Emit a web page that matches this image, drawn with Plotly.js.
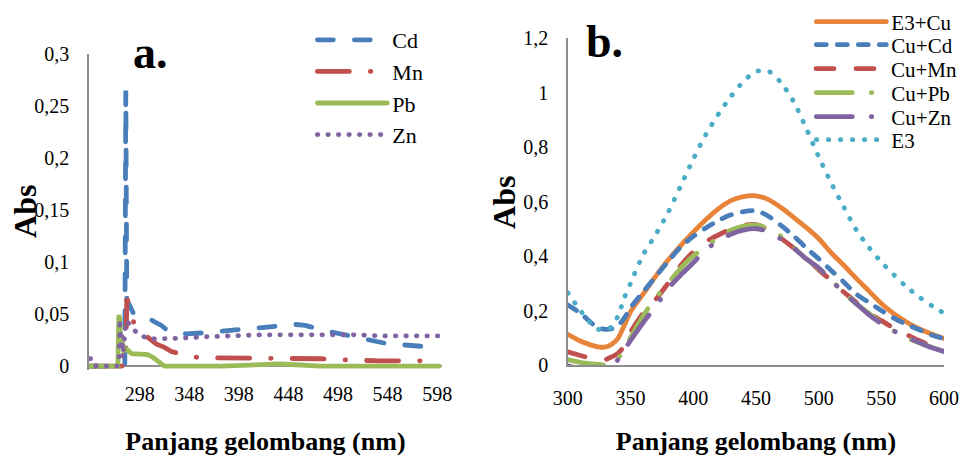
<!DOCTYPE html>
<html>
<head>
<meta charset="utf-8">
<script src="https://cdn.plot.ly/plotly-3.0.1.min.js"></script>
<style>
  html, body { margin: 0; padding: 0; background: #ffffff; }
  #chart { width: 963px; height: 456px; }
  /* rounded dash ends, like the office-style line charts */
  #chart path.js-line { stroke-linecap: round; }
</style>
</head>
<body>
<div id="chart"></div>
<script>
// ---- panel a: single-metal spectra (absorbance vs wavelength, nm) ----
const wlCd = [248, 283, 284, 285, 288, 292, 300, 307, 314, 320, 326, 335, 345, 355, 365, 375, 385, 395, 405, 415, 425, 435, 445, 455, 465, 475, 485, 495, 505, 515, 525, 535, 545, 555, 565, 575, 585, 595, 600];
const absCd = [0, 0, 0.265, 0.063, 0.058, 0.05, 0.048, 0.046, 0.042, 0.039, 0.034, 0.032, 0.031, 0.031, 0.032, 0.033, 0.034, 0.035, 0.036, 0.037, 0.038, 0.039, 0.040, 0.040, 0.039, 0.036, 0.034, 0.032, 0.030, 0.027, 0.025, 0.024, 0.022, 0.021, 0.020, 0.019, 0.018, 0.018, 0.018];

const wlMn = [248, 284, 285, 288, 292, 300, 307, 315, 323, 330, 340, 350, 360, 380, 400, 420, 440, 460, 480, 500, 520, 540, 560, 580, 600];
const absMn = [0, 0, 0.065, 0.058, 0.042, 0.034, 0.027, 0.021, 0.018, 0.014, 0.011, 0.009, 0.008, 0.008, 0.008, 0.008, 0.008, 0.007, 0.007, 0.006, 0.005, 0.005, 0.005, 0.005, 0.005];

const wlPb = [248, 276, 277, 278, 279, 280, 282, 285, 290, 295, 300, 306, 312, 318, 323, 380, 400, 420, 440, 460, 480, 600];
const absPb = [0, 0, 0.049, 0.045, 0.02, 0.025, 0.015, 0.016, 0.012, 0.012, 0.011, 0.011, 0.008, 0.004, 0, 0, 0.001, 0.002, 0.002, 0.001, 0, 0];

const wlZn = [248, 251, 254, 276, 277, 278, 279, 280, 281, 282, 283, 284, 286, 289, 293, 298, 305, 315, 330, 345, 360, 380, 400, 420, 440, 460, 480, 500, 520, 540, 560, 580, 600];
const absZn = [0.007, 0.007, 0, 0, 0.004, 0.045, 0.015, 0.03, 0.008, 0.022, 0.038, 0.043, 0.042, 0.038, 0.034, 0.03, 0.027, 0.026, 0.026, 0.027, 0.028, 0.029, 0.029, 0.03, 0.03, 0.03, 0.031, 0.031, 0.03, 0.029, 0.029, 0.029, 0.029];

const ticksA = [298, 348, 398, 448, 498, 548, 598];

// ---- panel b: E3 ligand with Cu and competing metals ----
const wlB = [300, 310, 320, 325, 330, 335, 340, 345, 350, 360, 370, 380, 390, 400, 410, 420, 430, 440, 450, 460, 470, 480, 490, 500, 510, 520, 530, 540, 550, 560, 570, 580, 590, 600];
const absE3Cu = [0.113, 0.088, 0.071, 0.066, 0.066, 0.076, 0.098, 0.145, 0.195, 0.26, 0.325, 0.385, 0.438, 0.487, 0.533, 0.573, 0.603, 0.618, 0.621, 0.607, 0.578, 0.542, 0.505, 0.464, 0.412, 0.366, 0.318, 0.272, 0.226, 0.188, 0.158, 0.133, 0.114, 0.097];
const absCuCd = [0.22, 0.19, 0.15, 0.135, 0.131, 0.133, 0.145, 0.172, 0.21, 0.268, 0.324, 0.38, 0.433, 0.472, 0.503, 0.53, 0.551, 0.563, 0.566, 0.546, 0.512, 0.474, 0.43, 0.39, 0.347, 0.305, 0.26, 0.23, 0.2, 0.172, 0.149, 0.13, 0.11, 0.097];
const absCuMn = [0.048, 0.035, 0.022, 0.018, 0.02, 0.03, 0.043, 0.07, 0.12, 0.19, 0.24, 0.3, 0.365, 0.415, 0.452, 0.477, 0.498, 0.513, 0.515, 0.497, 0.465, 0.43, 0.392, 0.35, 0.31, 0.268, 0.23, 0.19, 0.163, 0.135, 0.112, 0.09, 0.07, 0.055];
const absCuPb = [0.02, 0.01, 0.004, 0.002, 0, 0.006, 0.025, 0.055, 0.1, 0.18, 0.245, 0.3, 0.355, 0.4, 0.432, 0.468, 0.495, 0.51, 0.513, 0.5, 0.472, 0.432, 0.39, 0.355, 0.313, 0.265, 0.225, 0.19, 0.153, 0.125, 0.1, 0.082, 0.065, 0.049];
const absCuZn = [-0.003, -0.015, -0.025, -0.03, -0.02, -0.01, 0.02, 0.055, 0.09, 0.155, 0.215, 0.28, 0.33, 0.375, 0.423, 0.455, 0.48, 0.495, 0.5, 0.49, 0.462, 0.43, 0.39, 0.357, 0.31, 0.267, 0.225, 0.185, 0.152, 0.125, 0.102, 0.083, 0.064, 0.05];
const absE3 = [0.265, 0.2, 0.145, 0.13, 0.13, 0.14, 0.18, 0.245, 0.3, 0.404, 0.478, 0.56, 0.657, 0.755, 0.845, 0.92, 0.985, 1.04, 1.077, 1.078, 1.036, 0.967, 0.87, 0.765, 0.668, 0.58, 0.496, 0.432, 0.378, 0.331, 0.287, 0.25, 0.218, 0.19];

// ---- styling ----
const FONT = 'Liberation Serif';
const C = {
  blue: '#4a7ebb', red: '#c0504d', green: '#9bbb59',
  purple: '#8064a2', orange: '#e8843a', teal: '#4bacc6'
};
// dash patterns (round caps add the line width to every dash)
const DASH = {
  longdash: '16px,21px',
  dashdot: '32px,21px,0.5px,21px',
  dot: '0.5px,10px',
  shortdash: '10px,11px',
  longdashB: '18px,22px',
  dashdotB: '36px,19px,0.5px,19px',
  dotB: '0.5px,11.5px'
};

function seriesA(name, x, y, color, dash) {
  return {
    type: 'scatter', mode: 'lines', name: name, x: x, y: y,
    xaxis: 'x', yaxis: 'y', legend: 'legend',
    line: { color: color, width: 4.8, dash: dash, shape: 'linear' }
  };
}
function seriesB(name, y, color, dash, legendId) {
  return {
    type: 'scatter', mode: 'lines', name: name, x: wlB, y: y,
    xaxis: 'x2', yaxis: 'y2', legend: legendId,
    line: { color: color, width: 4.8, dash: dash, shape: 'spline', smoothing: 0.8 }
  };
}

const traces = [
  seriesA('Cd', wlCd, absCd, C.blue, DASH.longdash),
  seriesA('Mn', wlMn, absMn, C.red, DASH.dashdot),
  seriesA('Pb', wlPb, absPb, C.green, 'solid'),
  seriesA('Zn', wlZn, absZn, C.purple, DASH.dot),
  seriesB('E3+Cu', absE3Cu, C.orange, 'solid', 'legend2'),
  seriesB('Cu+Cd', absCuCd, C.blue, DASH.shortdash, 'legend3'),
  seriesB('Cu+Mn', absCuMn, C.red, DASH.longdashB, 'legend4'),
  seriesB('Cu+Pb', absCuPb, C.green, DASH.dashdotB, 'legend5'),
  seriesB('Cu+Zn', absCuZn, C.purple, DASH.dashdotB, 'legend6'),
  seriesB('E3', absE3, C.teal, DASH.dotB, 'legend7')
];

const W = 963, H = 456;
const px = v => v / W;          // horizontal pixel -> paper
const py = v => 1 - v / H;      // vertical pixel -> paper

const axisLine = '#8c8c8c';
const tickFont = { family: FONT, size: 20, color: '#000' };
const titleFont = { family: FONT, size: 26, color: '#000', weight: 'bold' };
const absFont = { family: FONT, size: 32, color: '#000', weight: 'bold' };
const panelFont = { family: FONT, size: 46, color: '#000', weight: 'bold' };

function sideLegend(cy, size) {
  return {
    x: px(813), y: py(cy), xanchor: 'left', yanchor: 'middle',
    bgcolor: 'rgba(0,0,0,0)', borderwidth: 0,
    font: { family: FONT, size: size, color: '#000' },
    itemwidth: 70
  };
}

function label(text, x, y, font, angle) {
  return {
    text: text, xref: 'paper', yref: 'paper', x: px(x), y: py(y),
    xanchor: angle ? 'center' : 'left', yanchor: 'middle',
    textangle: angle || 0, showarrow: false, font: font
  };
}

const layout = {
  width: W, height: H, autosize: false,
  margin: { l: 0, r: 0, t: 0, b: 0, pad: 0 },
  paper_bgcolor: '#fff', plot_bgcolor: '#fff',
  separators: ', ',
  font: { family: FONT, color: '#000' },
  showlegend: true,
  xaxis: {
    domain: [px(89), px(443)], range: [246.7, 603], anchor: 'y',
    tickmode: 'array', tickvals: ticksA, ticks: '',
    showline: false, zeroline: false, showgrid: false,
    tickfont: tickFont, ticklabelstandoff: 10,
    title: { text: 'Panjang gelombang (nm)', font: titleFont, standoff: 30 }
  },
  yaxis: {
    domain: [py(370.2), py(54)], range: [-0.004, 0.3], anchor: 'x',
    tick0: 0, dtick: 0.05, ticks: '',
    showline: true, linecolor: axisLine, linewidth: 1.5,
    zeroline: true, zerolinecolor: axisLine, zerolinewidth: 1.5,
    showgrid: false, tickfont: tickFont, ticklabelstandoff: 14
  },
  xaxis2: {
    domain: [px(569), px(946)], range: [300, 600], anchor: 'y2',
    tick0: 300, dtick: 50, ticks: '',
    showline: true, linecolor: axisLine, linewidth: 1.5,
    zeroline: false, showgrid: false,
    tickfont: tickFont, ticklabelstandoff: 14,
    title: { text: 'Panjang gelombang (nm)', font: titleFont, standoff: 30 }
  },
  yaxis2: {
    domain: [py(365), py(38)], range: [0, 1.2], anchor: 'x2',
    tick0: 0, dtick: 0.2, ticks: '',
    showline: true, linecolor: axisLine, linewidth: 1.5,
    zeroline: false, showgrid: false, tickfont: tickFont, ticklabelstandoff: 14
  },
  legend: {
    x: px(313), y: py(19), xanchor: 'left', yanchor: 'top',
    bgcolor: 'rgba(0,0,0,0)', borderwidth: 0,
    font: { family: FONT, size: 22, color: '#000' },
    itemwidth: 70, tracegroupgap: 0
  },
  legend2: sideLegend(22, 21),
  legend3: sideLegend(45, 21),
  legend4: sideLegend(69, 21),
  legend5: sideLegend(93, 21),
  legend6: sideLegend(117, 21),
  legend7: sideLegend(140, 21),
  annotations: [
    label('a.', 131, 53, panelFont),
    label('b.', 585, 42, panelFont),
    label('Abs', 25, 211, absFont, -90),
    label('Abs', 505, 202, absFont, -90)
  ]
};

Plotly.newPlot('chart', traces, layout, { staticPlot: true, displayModeBar: false });
</script>
</body>
</html>
